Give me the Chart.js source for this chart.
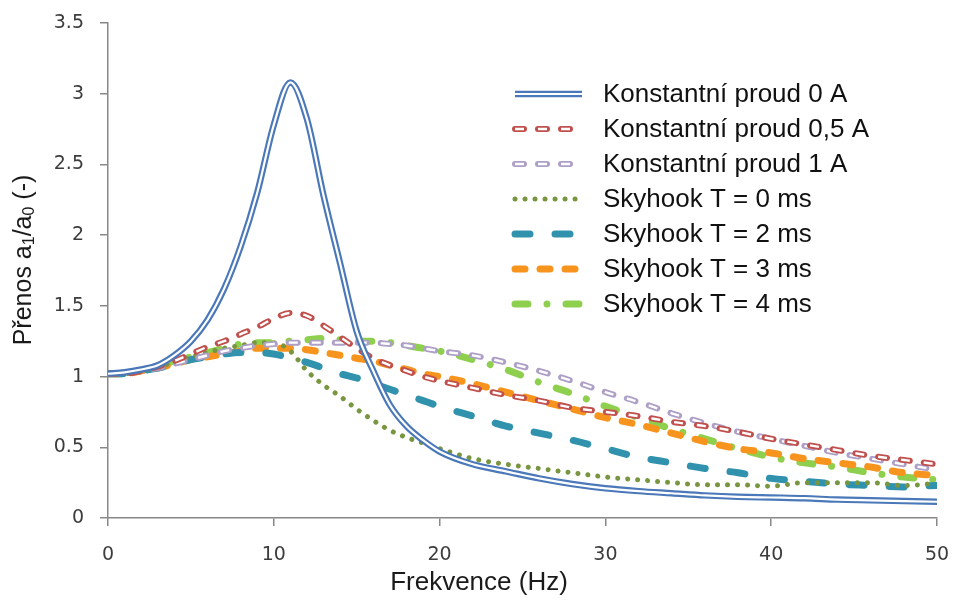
<!DOCTYPE html>
<html>
<head>
<meta charset="utf-8">
<script src="https://cdn.jsdelivr.net/npm/chart.js@4.4.0/dist/chart.umd.min.js"></script>
<style>
  html, body { margin: 0; padding: 0; background: #fff; }
  #wrap { width: 954px; height: 601px; }
</style>
</head>
<body>
<div id="wrap"><canvas id="prenos" width="954" height="601"></canvas></div>
<script>
const freq = [0, 1, 2, 3, 4, 5, 6, 7, 8, 9, 10, 11, 12, 13, 14, 15, 16, 17, 18, 19, 20,
              22, 24, 26, 28, 30, 32, 34, 36, 38, 40, 42, 44, 46, 48, 50];

// Transmissibility a1/a0 per series
const proud0 = [1.02, 1.03, 1.05, 1.08, 1.15, 1.25, 1.40, 1.62, 1.92, 2.30, 2.78, 3.08, 2.82, 2.28, 1.80, 1.32, 1.04, 0.80, 0.65, 0.55, 0.47,
                0.38, 0.33, 0.28, 0.24, 0.21, 0.19, 0.175, 0.16, 0.15, 0.145, 0.14, 0.13, 0.125, 0.12, 0.115];
const proud05 = [1.02, 1.02, 1.04, 1.07, 1.11, 1.16, 1.21, 1.25, 1.30, 1.35, 1.41, 1.45, 1.43, 1.36, 1.28, 1.20, 1.13, 1.08, 1.04, 1.00, 0.97,
                 0.92, 0.87, 0.83, 0.78, 0.75, 0.72, 0.68, 0.65, 0.61, 0.56, 0.52, 0.48, 0.44, 0.41, 0.38];
const proud1 = [1.02, 1.02, 1.04, 1.06, 1.09, 1.12, 1.15, 1.18, 1.20, 1.22, 1.23, 1.24, 1.24, 1.24, 1.24, 1.24, 1.24, 1.23, 1.22, 1.20, 1.18,
                1.15, 1.10, 1.04, 0.97, 0.89, 0.82, 0.74, 0.67, 0.61, 0.56, 0.51, 0.46, 0.42, 0.38, 0.34];
const sky0 = [1.02, 1.02, 1.04, 1.07, 1.10, 1.14, 1.17, 1.20, 1.22, 1.24, 1.24, 1.18, 1.04, 0.94, 0.86, 0.77, 0.69, 0.62, 0.57, 0.53, 0.49,
              0.42, 0.38, 0.35, 0.32, 0.29, 0.27, 0.25, 0.235, 0.235, 0.225, 0.25, 0.25, 0.25, 0.23, 0.245];
const sky2 = [1.02, 1.02, 1.04, 1.06, 1.09, 1.12, 1.14, 1.16, 1.17, 1.17, 1.16, 1.13, 1.10, 1.06, 1.02, 0.99, 0.95, 0.91, 0.87, 0.83, 0.79,
              0.72, 0.65, 0.60, 0.55, 0.49, 0.43, 0.39, 0.35, 0.32, 0.28, 0.26, 0.24, 0.23, 0.22, 0.23];
const sky3 = [1.02, 1.02, 1.04, 1.06, 1.09, 1.12, 1.14, 1.16, 1.18, 1.20, 1.20, 1.20, 1.19, 1.17, 1.15, 1.13, 1.11, 1.08, 1.05, 1.02, 1.00,
              0.95, 0.89, 0.83, 0.77, 0.71, 0.66, 0.60, 0.54, 0.49, 0.46, 0.42, 0.39, 0.36, 0.32, 0.30];
const sky4 = [1.02, 1.02, 1.04, 1.07, 1.11, 1.14, 1.17, 1.20, 1.23, 1.24, 1.24, 1.25, 1.26, 1.27, 1.26, 1.25, 1.25, 1.24, 1.22, 1.20, 1.18,
              1.12, 1.05, 0.96, 0.88, 0.79, 0.71, 0.63, 0.56, 0.49, 0.43, 0.39, 0.36, 0.32, 0.29, 0.27];

const seriesNames = ['Konstantní proud 0 A', 'Konstantní proud 0,5 A', 'Konstantní proud 1 A',
                     'Skyhook T = 0 ms', 'Skyhook T = 2 ms', 'Skyhook T = 3 ms', 'Skyhook T = 4 ms'];

const xTitle = 'Frekvence (Hz)';
// y title pieces: [text, subscript?]
const yTitle = [['Přenos a', false], ['1', true], ['/a', false], ['0', true], [' (-)', false]];

const xTicks = { min: 0, max: 50, step: 10 };
const yTicks = { min: 0, max: 3.5, step: 0.5 };

function pts(vals) {
    return freq.map((f, i) => ({ x: f, y: vals[i] }));
}

function line(label, vals, color, width, dash, cap, order) {
    return {
        label: label,
        data: pts(vals),
        borderColor: color,
        borderWidth: width,
        borderDash: dash,
        borderCapStyle: cap,
        pointRadius: 0,
        fill: false,
        cubicInterpolationMode: 'monotone',
        order: order
    };
}

// white core for the "double" lines
function inner(parent, width) {
    const d = Object.assign({}, parent);
    d.borderColor = '#ffffff';
    d.borderWidth = width;
    d.borderCapStyle = 'butt';
    d.order = parent.order - 1;
    d.inner = true;
    return d;
}

const dBlue = line(seriesNames[0], proud0, '#4a78b8', 6.5, [], 'butt', 1);
const dRed = line(seriesNames[1], proud05, '#c0504d', 6, [9, 14], 'round', 3);
const dPurple = line(seriesNames[2], proud1, '#ad9fc6', 6, [9, 14], 'round', 5);

const datasets = [
    dBlue, inner(dBlue, 2.2),
    dRed, inner(dRed, 2.4),
    dPurple, inner(dPurple, 2.4),
    line(seriesNames[3], sky0, '#77963f', 5, [0.01, 10], 'round', 6),
    line(seriesNames[4], sky2, '#3192ae', 7, [15, 25], 'round', 7),
    line(seriesNames[5], sky3, '#f7941e', 7, [10, 15], 'round', 8),
    line(seriesNames[6], sky4, '#8fcf4e', 7, [13, 19, 0.01, 19], 'round', 9)
];

function strokeSample(ctx, ds, x0, x1, y) {
    ctx.save();
    ctx.strokeStyle = ds.borderColor;
    ctx.lineWidth = ds.borderWidth;
    ctx.lineCap = ds.borderCapStyle;
    ctx.setLineDash(ds.borderDash);
    ctx.beginPath();
    ctx.moveTo(x0, y);
    ctx.lineTo(x1, y);
    ctx.stroke();
    ctx.restore();
}

const textFont = '"Liberation Sans", Arial, sans-serif';

// legend drawn inside the plot area, top right
const insideLegend = {
    id: 'insideLegend',
    afterDraw(chart) {
        const ctx = chart.ctx;
        const a = chart.chartArea;
        const x0 = a.left + 407, x1 = a.left + 474, tx = a.left + 495;
        let y = a.top + 71;
        const all = chart.data.datasets;
        all.forEach(ds => {
            if (ds.inner) return;
            strokeSample(ctx, ds, x0, x1, y);
            const core = all.find(d => d.inner && d.label === ds.label);
            if (core) strokeSample(ctx, core, x0, x1, y);
            ctx.save();
            ctx.fillStyle = '#111';
            ctx.font = '26px ' + textFont;
            ctx.textBaseline = 'middle';
            ctx.fillText(ds.label, tx, y + 1);
            ctx.restore();
            y += 35;
        });
    }
};

// axis titles (y title needs real subscripts)
const axisTitles = {
    id: 'axisTitles',
    afterDraw(chart) {
        const ctx = chart.ctx;
        ctx.save();
        ctx.fillStyle = '#1a1a1a';
        ctx.textBaseline = 'middle';
        ctx.textAlign = 'center';
        ctx.font = '26px ' + textFont;
        ctx.fillText(xTitle, 479, 583);

        const big = '25px ' + textFont, small = '16px ' + textFont;
        let total = 0;
        yTitle.forEach(p => { ctx.font = p[1] ? small : big; total += ctx.measureText(p[0]).width; });
        ctx.translate(24, 260);
        ctx.rotate(-Math.PI / 2);
        ctx.textAlign = 'left';
        let x = -total / 2;
        yTitle.forEach(p => {
            ctx.font = p[1] ? small : big;
            ctx.fillText(p[0], x, p[1] ? 6 : 0);
            x += ctx.measureText(p[0]).width;
        });
        ctx.restore();
    }
};

const axisGray = '#888888';
const tickFont = { family: '"DejaVu Sans", Verdana, sans-serif', size: 19 };

new Chart(document.getElementById('prenos'), {
    type: 'line',
    data: { datasets: datasets },
    options: {
        responsive: false,
        animation: false,
        events: [],
        layout: { padding: { top: 23, right: 17, left: 0, bottom: 0 } },
        plugins: {
            legend: { display: false },
            tooltip: { enabled: false }
        },
        scales: {
            x: {
                type: 'linear',
                min: xTicks.min,
                max: xTicks.max,
                ticks: { stepSize: xTicks.step, font: tickFont, color: '#3c3c3c', padding: 18, maxRotation: 0 },
                grid: { drawOnChartArea: false, color: axisGray, tickLength: 8, lineWidth: 1.5 },
                border: { color: axisGray, width: 1.5 },
                afterFit(scale) { scale.height = 83; scale.paddingRight = 0; scale.paddingLeft = 0; }
            },
            y: {
                min: yTicks.min,
                max: yTicks.max,
                ticks: {
                    stepSize: yTicks.step, font: tickFont, color: '#3c3c3c', padding: 16,
                    callback: v => String(Math.round(v * 10) / 10)
                },
                grid: { drawOnChartArea: false, color: axisGray, tickLength: 8, lineWidth: 1.5 },
                border: { color: axisGray, width: 1.5 },
                afterFit(scale) { scale.width = 108; scale.paddingTop = 0; scale.paddingBottom = 0; }
            }
        }
    },
    plugins: [insideLegend, axisTitles]
});
</script>
</body>
</html>
